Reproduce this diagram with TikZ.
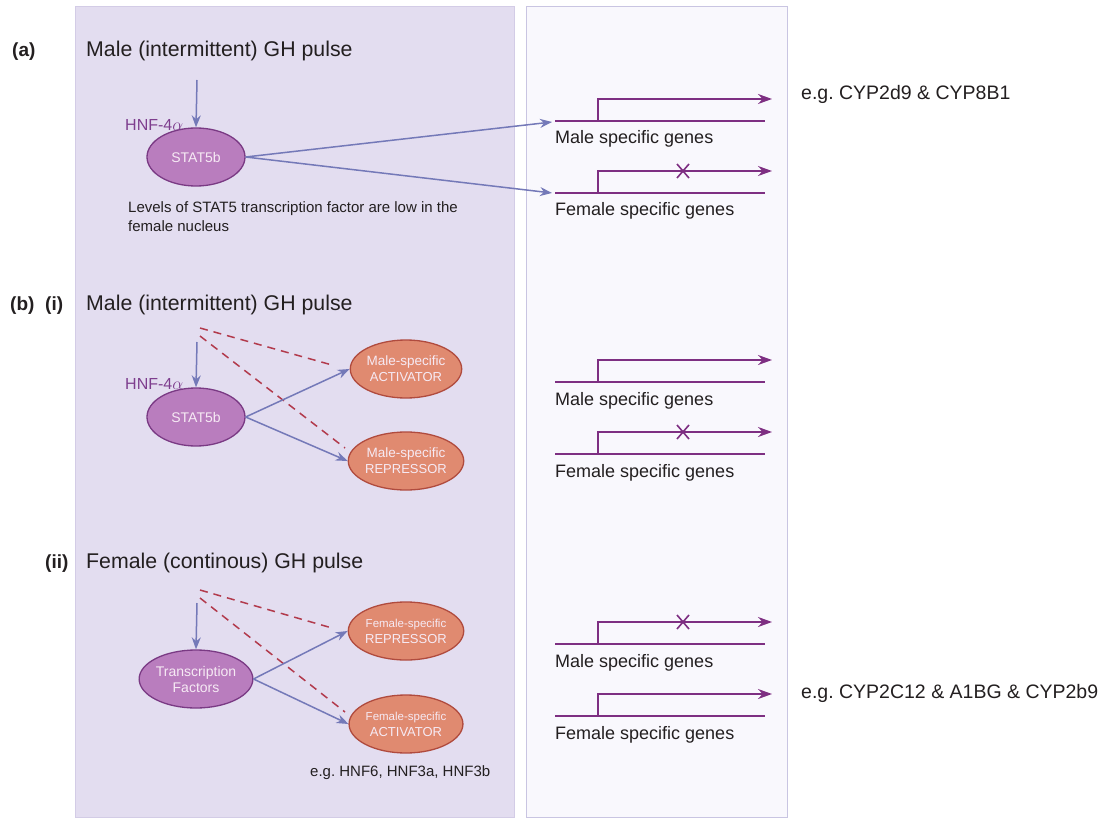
\documentclass[tikz,border=0pt]{standalone}
\usepackage{fontspec}
\setmainfont{Liberation Sans}
\usetikzlibrary{shapes.geometric,arrows.meta}
\definecolor{panelL}{HTML}{E3DDF0}
\definecolor{panelLb}{HTML}{D3CCE6}
\definecolor{panelR}{HTML}{F9F8FD}
\definecolor{panelRb}{HTML}{C9C5E2}
\definecolor{pfill}{HTML}{B97DBE}
\definecolor{pdraw}{HTML}{7A3A84}
\definecolor{sfill}{HTML}{E08A70}
\definecolor{sdraw}{HTML}{B04B3E}
\definecolor{etext}{HTML}{F6EAF4}
\definecolor{blu}{HTML}{7479B8}
\definecolor{gen}{HTML}{7E2F82}
\definecolor{dsh}{HTML}{B23A4C}
\definecolor{hnf}{HTML}{7E3E8E}
\definecolor{txt}{HTML}{231F20}
\frenchspacing
\begin{document}
\begin{tikzpicture}[x=1pt,y=-1pt,
 pell/.style={ellipse,draw=pdraw,fill=pfill,line width=1.3pt,minimum width=98pt,minimum height=58pt,inner sep=0pt,text=etext,font=\fontsize{14}{16}\selectfont,align=center},
 sell/.style={ellipse,draw=sdraw,fill=sfill,line width=1.3pt,minimum width=98pt,minimum height=58pt,inner sep=0pt,text=etext,font=\fontsize{13}{16}\selectfont,align=center},
 barr/.style={draw=blu,line width=1.5pt,-{Stealth[length=12pt,width=9pt]}},
 darr/.style={draw=dsh,line width=1.5pt,dash pattern=on 8pt off 6pt},
 head/.style={anchor=base west,inner sep=0pt,font=\fontsize{21.3}{24}\selectfont,text=txt},
 lab/.style={anchor=base west,inner sep=0pt,font=\bfseries\fontsize{19}{22}\selectfont,text=txt},
 gtext/.style={anchor=base west,inner sep=0pt,font=\fontsize{18}{20}\selectfont,text=txt},
 stext/.style={anchor=base west,inner sep=0pt,font=\fontsize{15}{19}\selectfont,text=txt,align=left},
 egtext/.style={anchor=base west,inner sep=0pt,font=\fontsize{19.5}{22}\selectfont,text=txt},
 hnflab/.style={anchor=base west,inner sep=0pt,font=\fontsize{16}{18}\selectfont,text=hnf},
 gline/.style={draw=gen,line width=1.6pt},
 gene/.pic={\draw[gline] (0,0) -- (210,0);
   \draw[gline,-{Stealth[length=14pt,width=10pt]}] (43,0) -- (43,-22) -- (217,-22);},
 genex/.pic={\draw[gline] (0,0) -- (210,0);
   \draw[gline,-{Stealth[length=14pt,width=10pt]}] (43,0) -- (43,-22) -- (217,-22);
   \draw[gline] (122,-29) -- (134,-15) (122,-15) -- (134,-29);}
]
\useasboundingbox (0,0) rectangle (1107,818);
\fill[white] (0,0) rectangle (1107,818);
% panels
\draw[panelLb,fill=panelL,line width=1pt] (75,7) rectangle (514,817);
\draw[panelRb,fill=panelR,line width=1pt] (526,7) rectangle (787,817);

% ---------------- (a)
\node[lab] (la) at (12,57) {(a)};
\node[head] (ha) at (86,57) {Male (intermittent) GH pulse};
\coordinate (ta) at (197,80);
\node[pell] (sa) at (196,157) {STAT5b};
\node[hnflab] (hnfa) at (125,131) {HNF-4$\alpha$};
\draw[barr] (ta) -- (sa.north);
\node[stext] (lv) at (128,232) {Levels of STAT5 transcription factor are low in the\\female nucleus};
\pic at (555,121) {gene};
\pic at (555,193) {genex};
\coordinate (ga1) at (552,122);
\coordinate (ga2) at (552,193);
\draw[barr] (sa.east) -- (ga1);
\draw[barr] (sa.east) -- (ga2);
\node[gtext] (gta1) at (555,144) {Male specific genes};
\node[gtext] (gta2) at (555,216) {Female specific genes};
\node[egtext] (ega) at (801,100) {e.g. CYP2d9 \& CYP8B1};

% ---------------- (b)(i)
\node[lab] (lb) at (10,310) {(b)};
\node[lab] (li) at (45,310) {(i)};
\node[head] (hb) at (86,310) {Male (intermittent) GH pulse};
\coordinate (tb) at (197,342);
\node[pell] (sb) at (196,417) {STAT5b};
\node[hnflab] (hnfb) at (125,389) {HNF-4$\alpha$};
\node[sell] (mact) at (406,369) {{\fontsize{13.5}{16}\selectfont Male-specific}\\ACTIVATOR};
\node[sell] (mrep) at (406,461) {{\fontsize{13.5}{16}\selectfont Male-specific}\\REPRESSOR};
\coordinate (db1) at (200,328);
\coordinate (db1e) at (332,365);
\coordinate (db2) at (200,336);
\coordinate (db2e) at (345,448);
\draw[darr] (db1) -- (db1e);
\draw[darr] (db2) -- (db2e);
\draw[barr] (tb) -- (sb.north);
\draw[barr] (sb.east) -- (mact.west);
\draw[barr] (sb.east) -- (mrep.west);
\pic at (555,382) {gene};
\pic at (555,454) {genex};
\node[gtext] (gtb1) at (555,405) {Male specific genes};
\node[gtext] (gtb2) at (555,477) {Female specific genes};

% ---------------- (ii)
\node[lab] (lii) at (45,568) {(ii)};
\node[head] (hc) at (86,568) {Female (continous) GH pulse};
\coordinate (tc) at (197,603);
\node[pell] (tf) at (196,679) {Transcription\\Factors};
\node[sell] (frep) at (406,631) {{\fontsize{11.5}{16}\selectfont Female-specific}\\REPRESSOR};
\node[sell] (fact) at (406,724) {{\fontsize{11.5}{16}\selectfont Female-specific}\\ACTIVATOR};
\coordinate (dc1) at (200,590);
\coordinate (dc1e) at (332,628);
\coordinate (dc2) at (200,598);
\coordinate (dc2e) at (345,712);
\draw[darr] (dc1) -- (dc1e);
\draw[darr] (dc2) -- (dc2e);
\draw[barr] (tc) -- (tf.north);
\draw[barr] (tf.east) -- (frep.west);
\draw[barr] (tf.east) -- (fact.west);
\node[stext] (egh) at (310,776) {e.g. HNF6, HNF3a, HNF3b};
\pic at (555,644) {genex};
\pic at (555,716) {gene};
\node[gtext] (gtc1) at (555,667) {Male specific genes};
\node[gtext] (gtc2) at (555,739) {Female specific genes};
\node[egtext] (egc) at (801,698) {e.g. CYP2C12 \& A1BG \& CYP2b9};
\end{tikzpicture}
\end{document}
